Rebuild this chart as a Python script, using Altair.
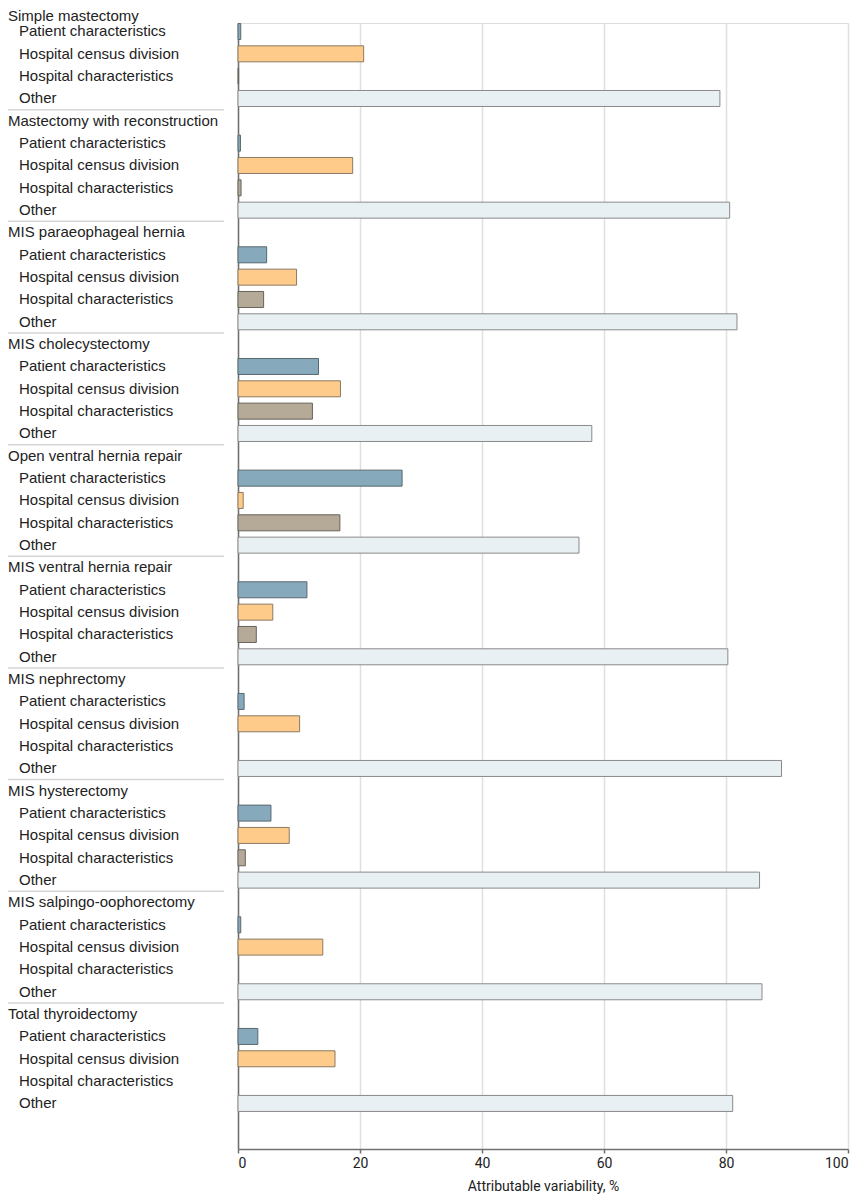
import altair as alt
import pandas as pd

procedures = [
    "Simple mastectomy",
    "Mastectomy with reconstruction",
    "MIS paraeophageal hernia",
    "MIS cholecystectomy",
    "Open ventral hernia repair",
    "MIS ventral hernia repair",
    "MIS nephrectomy",
    "MIS hysterectomy",
    "MIS salpingo-oophorectomy",
    "Total thyroidectomy",
]
components = [
    "Patient characteristics",
    "Hospital census division",
    "Hospital characteristics",
    "Other",
]
patient = [0.45, 0.4, 4.7, 13.2, 26.9, 11.3, 1.0, 5.4, 0.45, 3.25]
census = [20.6, 18.8, 9.6, 16.8, 0.85, 5.7, 10.1, 8.4, 13.9, 15.9]
hospital = [0.1, 0.5, 4.2, 12.2, 16.7, 3.0, None, 1.2, None, None]
other = [79.0, 80.6, 81.8, 58.0, 55.9, 80.3, 89.1, 85.5, 85.9, 81.1]
x_ticks = [0, 20, 40, 60, 80, 100]

fills = ["#86aabb", "#fecb8a", "#b5aa97", "#e9f0f3"]
strokes = ["#58686f", "#8c7a62", "#67625a", "#8a8a8a"]

AXIS_FONT = "Roboto, Liberation Sans, sans-serif"
LABEL_FONT = "Liberation Sans, Arial, sans-serif"

series = [patient, census, hospital, other]
bar_rows, label_rows = [], []
for g, proc in enumerate(procedures):
    label_rows.append({"row": g * 5, "text": proc, "kind": "title"})
    for j, comp in enumerate(components):
        k = g * 5 + j + 1
        label_rows.append({"row": k, "text": comp, "kind": "item"})
        v = series[j][g]
        if v is not None:
            bar_rows.append({"row": k, "component": comp, "value": v})
sep_rows = [{"row": g * 5 - 0.5} for g in range(1, len(procedures))]

bars_df = pd.DataFrame(bar_rows)
labels_df = pd.DataFrame(label_rows)
sep_df = pd.DataFrame(sep_rows)

yscale = alt.Scale(domain=[0.62, 51.04], reverse=True, nice=False, zero=False, padding=0)

bars = alt.Chart(bars_df).mark_bar(orient="horizontal", size=16, strokeWidth=1).encode(
    x=alt.X(
        "value:Q",
        stack=None,
        scale=alt.Scale(domain=[0, 100], nice=False, padding=0),
        axis=alt.Axis(
            values=x_ticks,
            title="Attributable variability, %",
            grid=True,
            gridColor="#e0e0e0",
            gridWidth=1.5,
            domainColor="#707070",
            domainWidth=1.5,
            tickColor="#707070",
            tickWidth=1.5,
            tickSize=4,
            labelPadding=3,
            labelFont=AXIS_FONT,
            labelFontSize=14,
            labelColor="#222222",
            titleFont=AXIS_FONT,
            titleFontSize=14,
            titleFontWeight="normal",
            titleColor="#222222",
            titlePadding=9,
        ),
    ),
    y=alt.Y(
        "row:Q",
        scale=yscale,
        axis=alt.Axis(
            labels=False, ticks=False, grid=False, domain=True, title=None,
            domainColor="#707070", domainWidth=1.5,
        ),
    ),
    color=alt.Color("component:N", scale=alt.Scale(domain=components, range=fills), legend=None),
    stroke=alt.Stroke("component:N", scale=alt.Scale(domain=components, range=strokes), legend=None),
)

titles = alt.Chart(labels_df).transform_filter(
    (alt.datum.kind == "title") & (alt.datum.row > 0)
).mark_text(align="left", baseline="middle", font=LABEL_FONT, fontSize=15, color="#222222").encode(
    x=alt.value(-230),
    y=alt.Y("row:Q", scale=yscale),
    text="text:N",
)

first_title = alt.Chart(labels_df).transform_filter(
    (alt.datum.kind == "title") & (alt.datum.row == 0)
).mark_text(align="left", baseline="middle", font=LABEL_FONT, fontSize=15, color="#222222", dy=7).encode(
    x=alt.value(-230),
    y=alt.Y("row:Q", scale=yscale),
    text="text:N",
)

items = alt.Chart(labels_df).transform_filter(
    alt.datum.kind == "item"
).mark_text(align="left", baseline="middle", font=LABEL_FONT, fontSize=15, color="#222222").encode(
    x=alt.value(-219),
    y=alt.Y("row:Q", scale=yscale),
    text="text:N",
)

seps = alt.Chart(sep_df).mark_rule(color="#d6d6d6", strokeWidth=1.5).encode(
    x=alt.value(-230),
    x2=alt.value(-14),
    y=alt.Y("row:Q", scale=yscale),
)

chart = alt.layer(bars, seps, titles, first_title, items).properties(
    width=610,
    height=1126,
    autosize=alt.AutoSizeParams(type="none"),
    padding={"left": 230, "top": 15, "right": 5, "bottom": 50},
).configure_view(stroke=None).configure(background="white")

chart.save("out.html", embed_options={"renderer": "svg", "actions": False})
